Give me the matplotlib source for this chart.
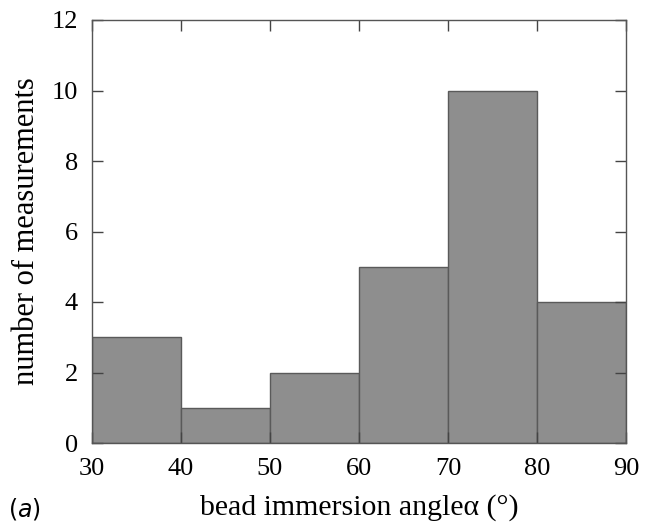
import matplotlib
matplotlib.use("Agg")
import matplotlib.pyplot as plt
import numpy as np

bin_edges = [30, 40, 50, 60, 70, 80, 90]
counts = [3, 1, 2, 5, 10, 4]
x_ticks = [30, 40, 50, 60, 70, 80, 90]
y_ticks = [0, 2, 4, 6, 8, 10, 12]

plt.rcParams['font.family'] = ['Liberation Serif', 'DejaVu Serif']
plt.rcParams['mathtext.fontset'] = 'dejavusans'

fig = plt.figure(figsize=(6.51, 5.23), dpi=100)
ax = fig.add_axes([92/651, 1-443/523, (626-92)/651, (443-20)/523])

left = bin_edges[:-1]
widths = np.diff(bin_edges)
ax.bar(left, counts, width=widths, align='edge', color='#8e8e8e',
       edgecolor='#5a5a5a', linewidth=1.0)

ax.set_xlim(30, 90)
ax.set_ylim(0, 12)
ax.set_xticks(x_ticks)
ax.set_yticks(y_ticks)
ax.tick_params(direction='in', length=8, width=1, color='#444444',
               top=True, right=True, labelsize=19)
ax.tick_params(axis='x', pad=10.5)
ax.tick_params(axis='y', pad=10)
for s in ax.spines.values():
    s.set_color('#555555')
    s.set_linewidth(1.0)

ax.set_xlabel('bead immersion angleα (°)', fontsize=21.5, va='baseline')
ax.xaxis.set_label_coords(0.5, (443-515)/423)
ax.set_ylabel('number of measurements', fontsize=22, va='center')
ax.yaxis.set_label_coords((27-92)/534, 0.5)

fig.text(8/651, 7/523, r'$(a)$', fontsize=17, ha='left', va='baseline')

fig.savefig('out.png', dpi=100)
